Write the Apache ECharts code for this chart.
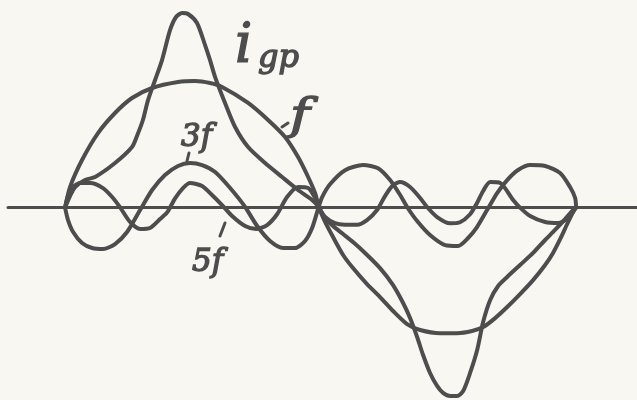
<!DOCTYPE html>
<html lang="sr">
<head>
<meta charset="utf-8">
<script src="https://cdn.jsdelivr.net/npm/echarts@6/dist/echarts.min.js"></script>
<style>
html,body{margin:0;padding:0;background:#f8f7f2;}
#c{width:637px;height:400px;}
</style>
</head>
<body>
<div id="c" lang="sr"></div>
<script>
// x: electrical degrees, y: current in % of fundamental amplitude
const fundamental = [[0,0],[3.5,16.2],[12,37.5],[23.3,58.7],[35.3,74.5],[47.3,86.3],[61.5,94.2],[79.8,98.9],[91.8,99.7],[102.4,98.1],[110.9,95],[129.3,82.4],[143.4,69],[155.4,55.6],[164.6,39.8],[171.7,24.1],[176.6,11.5],[179.4,0],
  [183.7,-11.3],[189.3,-23.2],[196.4,-37.3],[203.4,-47.6],[213.3,-60.2],[222.5,-70.4],[231.7,-81.4],[241.6,-91.7],[250.8,-96.4],[264.9,-98.9],[276.9,-98.9],[287.5,-97.2],[295.3,-94.1],[303.8,-87],[312.3,-78.3],[321.4,-68.1],[330.6,-57.1],[339.1,-45.2],[344.7,-35.7],[349.7,-24.9],[354.6,-13.1],[360.3,0]];

const totalCurrent = [[0,0],[3.5,9.1],[7.1,16.2],[14.1,21.7],[21.2,24.1],[35.3,35.1],[47.3,47.7],[51,57],[55,69],[58.6,84.7],[63.6,100.5],[68.5,116.2],[74.2,139.9],[78.4,150.1],[82.7,153.2],[86.9,152.5],[93.2,145.4],[98.9,128],[102.4,116.2],[106,102.8],[113,82.4],[120.1,63.5],[129.3,47.7],[141.3,35.1],[153.3,24.1],[164.6,13.9],[174.5,6],[179.4,0],
  [183.7,-8.2],[189.3,-14.5],[196.4,-20.8],[203.4,-27.1],[211.9,-35.7],[222.5,-47.6],[231.7,-61],[238.8,-75.1],[243.7,-86.9],[248.7,-101.9],[252.9,-116.1],[257.8,-130.2],[262.8,-140.4],[267,-145.9],[272,-148.4],[276.9,-148.4],[281.2,-144.4],[286.1,-130.2],[291.1,-112.1],[295.3,-90.1],[300.3,-72.7],[305.9,-61.7],[312.3,-54.6],[321.4,-45.2],[330.6,-35.7],[339.1,-25.5],[346.1,-17.6],[353.2,-9],[360.3,0]];

const thirdHarmonic = [[0,0],[2.1,-9.8],[5.7,-19.2],[12,-27.9],[19.1,-31.8],[26.8,-32.6],[35.3,-28.7],[43.8,-19.2],[53,-1.9],[61.5,13.9],[70.6,25.7],[79.8,32.8],[88.3,35.1],[96.8,33.5],[106,28],[116.6,15.4],[127.2,0.5],[135.7,-14.5],[144.8,-26.3],[154,-31.8],[162.5,-31.8],[169.5,-26.3],[174.5,-16.1],[179,0],
  [181.6,8.3],[187.3,18.6],[197.8,29.5],[210.5,33.5],[221.1,31],[229.6,21.7],[236.7,9.9],[241.6,0.5],[248.7,-10.6],[257.8,-21.6],[268.4,-29.5],[277.6,-30.2],[284.7,-23.9],[291,-15.3],[298.1,-1.9],[305.2,11.5],[312.3,21.7],[320,29.6],[328.5,33.5],[339.1,32.8],[349.7,27.2],[356.7,16.2],[360.3,7.6],[361,0]];

const fifthHarmonic = [[0,0],[2.1,9.1],[5.7,16.2],[10.6,19.4],[17.7,19.4],[26.8,15.4],[33.9,7.6],[39,0],[45.9,-11.3],[53,-16.9],[60,-16.1],[67.1,-9],[72.1,-3.8],[77.6,7.1],[83.3,15.4],[88.3,19.4],[96.8,17],[103.8,9.9],[110.9,2],[118,-6.6],[127.2,-14.5],[134.9,-16.9],[142.7,-13.7],[149.8,-5.2],[156.8,8.3],[164.6,16.2],[171.7,15.4],[176.6,7.6],[179.4,0],
  [183.7,-7.4],[190.7,-12.3],[197.8,-13.4],[206.3,-13.4],[213.3,-9.8],[220.4,-1.9],[226,9.1],[231.7,17.8],[236.7,20.1],[243.7,16.2],[250.8,7.6],[255.7,0.5],[262.8,-7.4],[272,-12.3],[279,-11.5],[286.1,-5.2],[291,3.6],[295.3,13.1],[300.3,20.1],[307.4,19.4],[316.5,6],[321.4,0],[328.5,-6.6],[339.1,-11.3],[348.3,-12.1],[355.3,-8.2],[361,0]];

const labels = {total:['i','др'], fundamental:'f', third:'3f', fifth:'5f'};

const ink = '#4d4d4d';
const lineBase = {type:'line', showSymbol:false, symbol:'none', smooth:0.25,
  lineStyle:{color:ink, width:4, cap:'round', join:'round'}, silent:true, z:3};
const txt = (font) => ({font:font, fill:ink, stroke:ink, lineWidth:1.4});

const chart = echarts.init(document.getElementById('c'), null, {renderer:'canvas'});
chart.setOption({
  backgroundColor:'#f8f7f2',
  animation:false,
  grid:{left:8, right:0, top:0, bottom:0, containLabel:false},
  xAxis:{type:'value', min:-40.3, max:404, axisLine:{show:true, onZero:true, lineStyle:{color:ink, width:3}},
    axisTick:{show:false}, axisLabel:{show:false}, splitLine:{show:false}},
  yAxis:{type:'value', min:-151.5, max:163.5, axisLine:{show:false}, axisTick:{show:false}, axisLabel:{show:false}, splitLine:{show:false}},
  series:[
    Object.assign({name:'f', data:fundamental}, lineBase),
    Object.assign({name:'i', data:totalCurrent}, lineBase),
    Object.assign({name:'3f', data:thirdHarmonic}, lineBase),
    Object.assign({name:'5f', data:fifthHarmonic}, lineBase)
  ],
  graphic:[
    {type:'text', x:235, y:21, style:Object.assign({text:labels.total[0]}, txt('italic 54px "DejaVu Serif"'))},
    {type:'text', x:258, y:43, style:Object.assign({text:labels.total[1]}, txt('italic 32px "DejaVu Serif"'))},
    {type:'text', x:290, y:96, style:Object.assign({text:labels.fundamental}, txt('italic 43px "DejaVu Serif"')), scaleX:1.25},
    {type:'text', x:181, y:122, style:Object.assign({text:labels.third}, txt('italic 31px "DejaVu Serif"'))},
    {type:'text', x:192, y:247, style:Object.assign({text:labels.fifth}, txt('italic 31px "DejaVu Serif"'))},
    {type:'line', shape:{x1:282, y1:127, x2:288, y2:123}, style:{stroke:ink, lineWidth:3, lineCap:'round'}},
    {type:'line', shape:{x1:189, y1:153, x2:187, y2:161}, style:{stroke:ink, lineWidth:3, lineCap:'round'}},
    {type:'line', shape:{x1:220, y1:236, x2:225, y2:223}, style:{stroke:ink, lineWidth:3, lineCap:'round'}}
  ]
});
</script>
</body>
</html>
